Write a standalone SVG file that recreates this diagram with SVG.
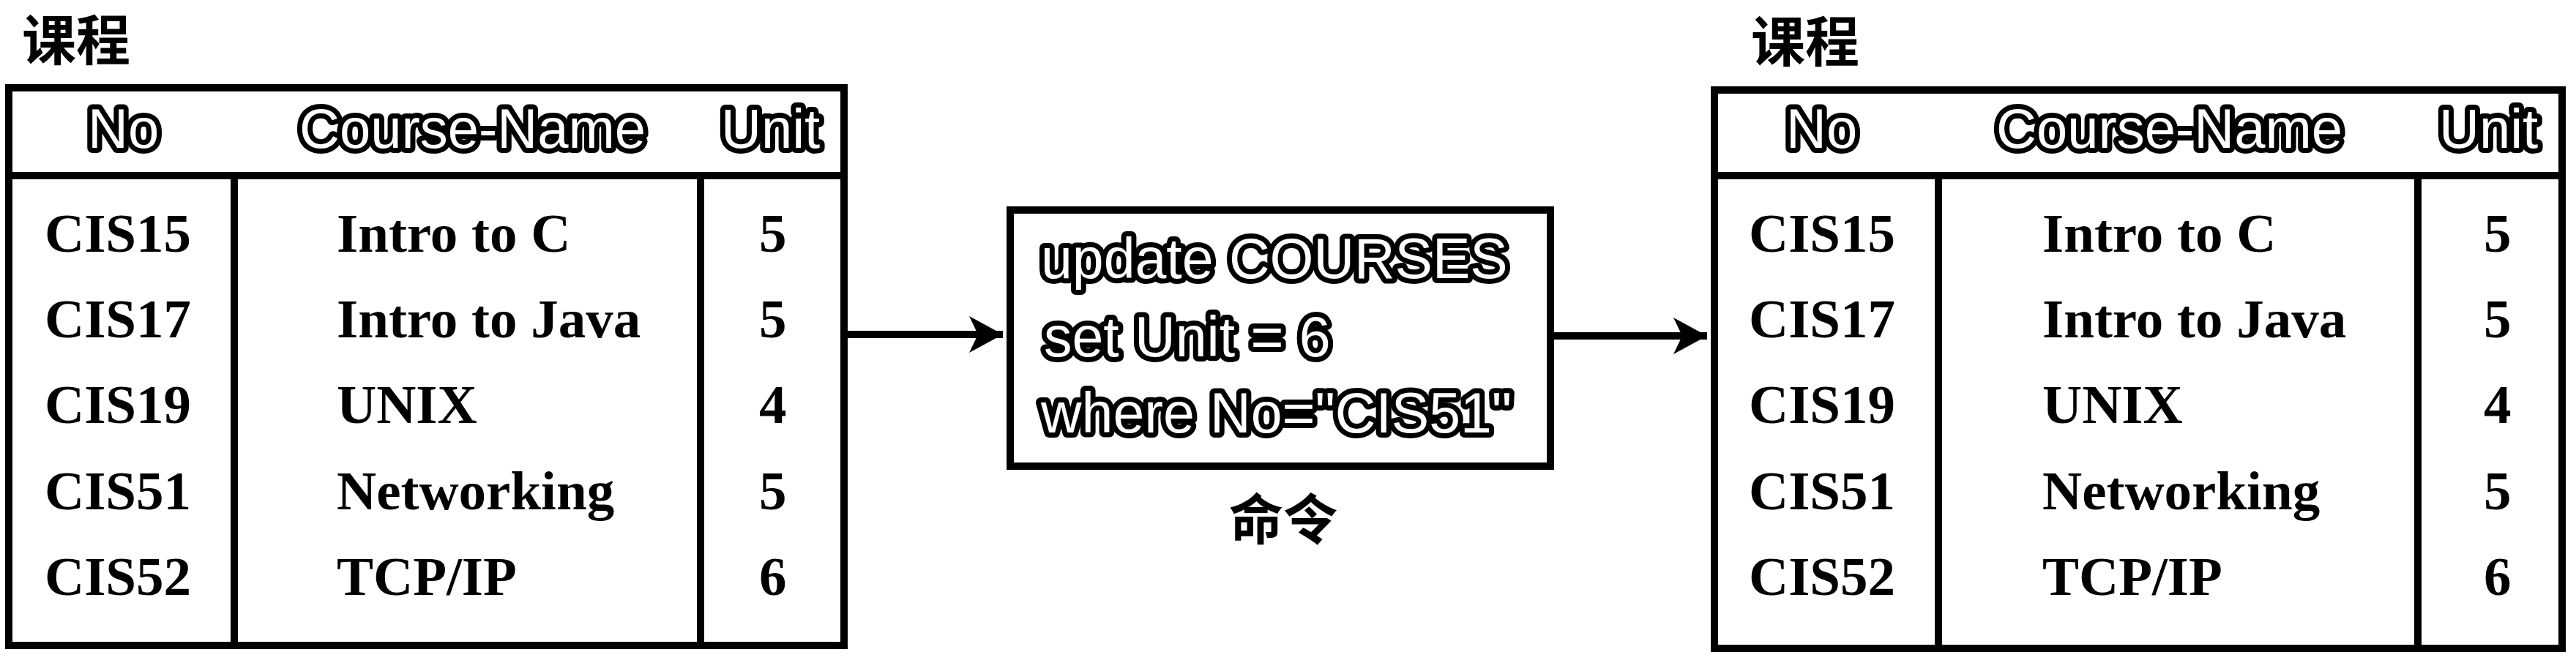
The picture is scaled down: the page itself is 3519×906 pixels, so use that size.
<svg xmlns="http://www.w3.org/2000/svg" width="3519" height="906" viewBox="0 0 3519 906">
<style>
.bg{fill:#fff}
.box{fill:none;stroke:#000;stroke-width:10}
.ln{stroke:#000;stroke-width:10;fill:none}
.cell{font-family:"Liberation Serif","Times New Roman",serif;font-weight:bold;font-size:75px;fill:#000}
.hdr{font-family:"Liberation Sans",Arial,sans-serif;font-size:76px;fill:#fff;stroke:#000;stroke-width:14;stroke-linejoin:round;paint-order:stroke}
.cmd{font-family:"Liberation Sans",Arial,sans-serif;font-size:77px;fill:#fff;stroke:#000;stroke-width:14;stroke-linejoin:round;paint-order:stroke}
.cjk{font-family:"Noto Sans CJK SC","Noto Sans CJK TC",sans-serif;font-size:74px;font-weight:bold;fill:#000}
</style>
<defs>
<marker id="ah" markerUnits="userSpaceOnUse" markerWidth="48" markerHeight="52" refX="46" refY="25" orient="auto">
<path d="M0,0 L46,25 L0,50 L12,25 Z" fill="#000"/>
</marker>
</defs>
<rect class="bg" x="0" y="0" width="3519" height="906"/>

<g id="left-table">
<text class="cjk" x="30" y="82">课程</text>
<rect class="box" x="12" y="120" width="1141" height="762"/>
<line class="ln" x1="12" y1="240" x2="1153" y2="240"/>
<line class="ln" x1="320" y1="240" x2="320" y2="882"/>
<line class="ln" x1="957" y1="240" x2="957" y2="882"/>
<text class="hdr" x="120" y="202">No</text>
<text class="hdr" x="409" y="202">Course-Name</text>
<text class="hdr" x="985" y="202">Unit</text>
<text class="cell" x="61" y="344">CIS15</text>
<text class="cell" x="61" y="461">CIS17</text>
<text class="cell" x="61" y="578">CIS19</text>
<text class="cell" x="61" y="696">CIS51</text>
<text class="cell" x="61" y="813">CIS52</text>
<text class="cell" x="460" y="344">Intro to C</text>
<text class="cell" x="460" y="461">Intro to Java</text>
<text class="cell" x="460" y="578">UNIX</text>
<text class="cell" x="460" y="696">Networking</text>
<text class="cell" x="460" y="813">TCP/IP</text>
<text class="cell" x="1037" y="344">5</text>
<text class="cell" x="1037" y="461">5</text>
<text class="cell" x="1037" y="578">4</text>
<text class="cell" x="1037" y="696">5</text>
<text class="cell" x="1037" y="813">6</text>
</g>

<g id="command">
<rect class="box" x="1380" y="287" width="738" height="350"/>
<text class="cmd" x="1422" y="380">update COURSES</text>
<text class="cmd" x="1426" y="487">set Unit = 6</text>
<text class="cmd" x="1422" y="591">where No="CIS51"</text>
<text class="cjk" x="1753" y="737" text-anchor="middle">命令</text>
</g>

<g id="right-table">
<text class="cjk" x="2392" y="84">课程</text>
<rect class="box" x="2342" y="123" width="1158" height="763"/>
<line class="ln" x1="2342" y1="240" x2="3500" y2="240"/>
<line class="ln" x1="2648" y1="240" x2="2648" y2="886"/>
<line class="ln" x1="3303" y1="240" x2="3303" y2="886"/>
<text class="hdr" x="2440" y="202">No</text>
<text class="hdr" x="2727" y="202">Course-Name</text>
<text class="hdr" x="3332" y="202">Unit</text>
<text class="cell" x="2389" y="344">CIS15</text>
<text class="cell" x="2389" y="461">CIS17</text>
<text class="cell" x="2389" y="578">CIS19</text>
<text class="cell" x="2389" y="696">CIS51</text>
<text class="cell" x="2389" y="813">CIS52</text>
<text class="cell" x="2790" y="344">Intro to C</text>
<text class="cell" x="2790" y="461">Intro to Java</text>
<text class="cell" x="2790" y="578">UNIX</text>
<text class="cell" x="2790" y="696">Networking</text>
<text class="cell" x="2790" y="813">TCP/IP</text>
<text class="cell" x="3393" y="344">5</text>
<text class="cell" x="3393" y="461">5</text>
<text class="cell" x="3393" y="578">4</text>
<text class="cell" x="3393" y="696">5</text>
<text class="cell" x="3393" y="813">6</text>
</g>

<g id="connectors">
<line class="ln" x1="1158" y1="457" x2="1370" y2="457" marker-end="url(#ah)"/>
<line class="ln" x1="2123" y1="459" x2="2332" y2="459" marker-end="url(#ah)"/>
</g>
</svg>
